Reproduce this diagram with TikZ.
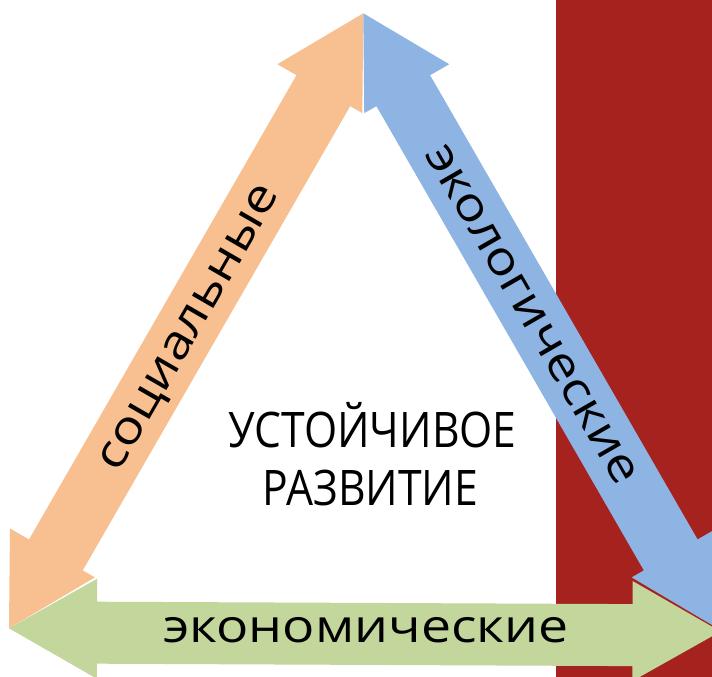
\documentclass[tikz,border=0pt]{standalone}
\usepackage{fontspec}
\setmainfont{Open Sans}
\usetikzlibrary{calc}
\definecolor{socc}{HTML}{F8C090}
\definecolor{ecoc}{HTML}{8EB4E3}
\definecolor{econc}{HTML}{C3D69B}
\definecolor{redc}{HTML}{A6221F}
% #1 tip P, #2 tip Q, #3 head length, #4 head half-width, #5 shaft half-width on left side, #6 on right side, #7 colour, #8 prefix
\newcommand{\blockarrow}[8]{%
  \coordinate (#8h1) at ($(#1)!#3!(#2)$);
  \coordinate (#8h2) at ($(#2)!#3!(#1)$);
  \fill[#7] (#1) -- ($(#8h1)!#4!90:(#2)$) -- ($(#8h1)!#5!90:(#2)$)
    -- ($(#8h2)!#5!-90:(#1)$) -- ($(#8h2)!#4!-90:(#1)$) -- (#2)
    -- ($(#8h2)!#4!90:(#1)$) -- ($(#8h2)!#6!90:(#1)$)
    -- ($(#8h1)!#6!-90:(#2)$) -- ($(#8h1)!#4!-90:(#2)$) -- cycle;
}
\newcommand{\widetext}[1]{\scalebox{1.165}[1]{#1}}
\newcommand{\narrowtext}[1]{\scalebox{0.87}[1]{#1}}
\tikzset{
  lbl/.style={inner sep=0pt, anchor=base, font=\fontsize{46}{46}\selectfont},
  ctr/.style={inner sep=0pt, anchor=base, font=\fontsize{49}{49}\selectfont}
}
\begin{document}
\begin{tikzpicture}[x=1pt,y=-1pt]
\useasboundingbox (0,0) rectangle (712,677);
\clip (0,0) rectangle (712,677);
\fill[white] (0,0) rectangle (712,677);
\fill[redc] (556,0) rectangle (712,677);
\coordinate (A) at (363.3,13.3);
\coordinate (B) at (9,628.3);
\coordinate (C) at (717.6,628.3);
\coordinate (D) at (720.5,631.5);
\blockarrow{A}{B}{87pt}{49pt}{35pt}{27pt}{socc}{o}
\blockarrow{A}{C}{87pt}{49pt}{27pt}{35pt}{ecoc}{b}
\blockarrow{B}{D}{88pt}{50pt}{27pt}{35pt}{econc}{g}
\node[lbl, rotate=60] (soc) at (199.0,333.7) {\widetext{социальные}};
\node[lbl, rotate=-60] (eco) at (520.8,321.1) {\widetext{экологические}};
\node[lbl] (econ) at (366,642.7) {\widetext{экономические}};
\node[ctr] (t1) at (372.5,447) {\narrowtext{УСТОЙЧИВОЕ}};
\node[ctr] (t2) at (370.5,505) {\narrowtext{РАЗВИТИЕ}};
\end{tikzpicture}
\end{document}
